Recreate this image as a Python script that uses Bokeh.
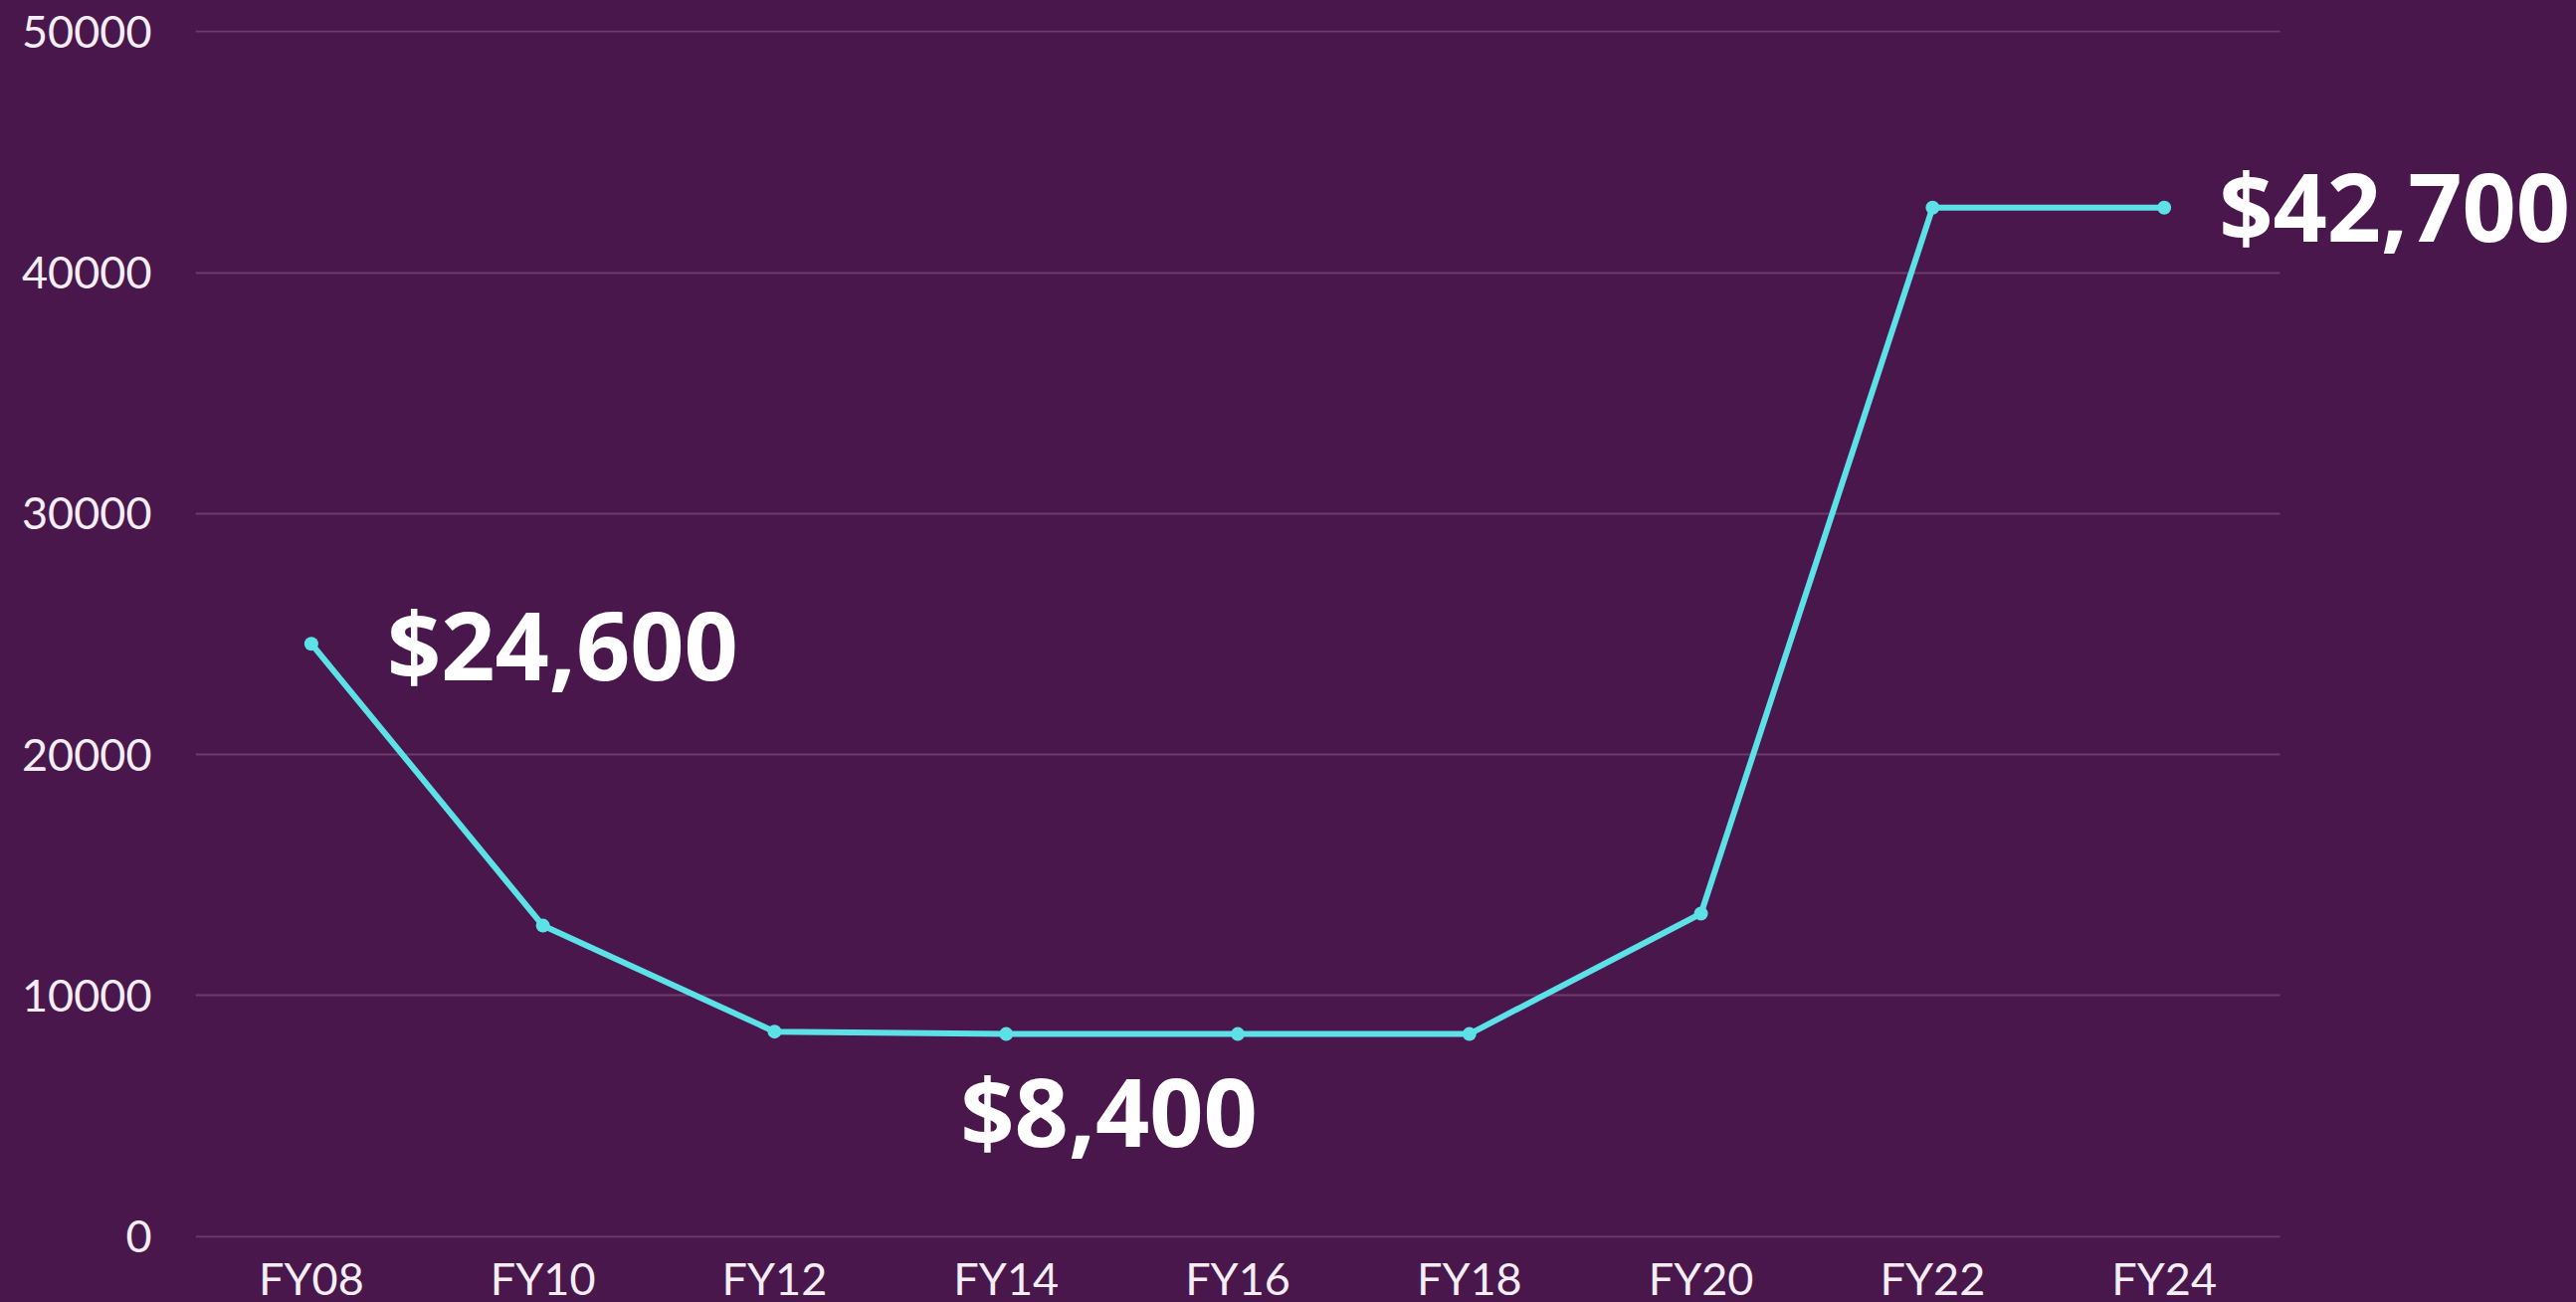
from bokeh.plotting import figure
from bokeh.models import Range1d, FixedTicker
from bokeh.core.properties import value
from bokeh.embed import file_html
from bokeh.resources import INLINE

# ---- data ----
years = ["FY08", "FY10", "FY12", "FY14", "FY16", "FY18", "FY20", "FY22", "FY24"]
values = [24600, 12900, 8500, 8400, 8400, 8400, 13400, 42700, 42700]
y_ticks = [0, 10000, 20000, 30000, 40000, 50000]

label_years = ["FY08", "FY14", "FY24"]
label_values = [24600, 8400, 42700]
label_texts = ["$24,600", "$8,400", "$42,700"]

BG = "#49174c"
LINE = "#5ce1e6"
GRID = "#6a3d6d"

# category positions on the x axis
xs = list(range(len(years)))
label_xs = [years.index(c) for c in label_years]

p = figure(
    x_range=Range1d(-0.5, 9.78),
    y_range=Range1d(-60, 50060),
    frame_width=2393, frame_height=1214,
    min_border_left=196, min_border_top=30, min_border_right=0, min_border_bottom=40,
    output_backend="svg", toolbar_location=None,
    border_fill_color=BG, background_fill_color=BG,
)
p.styles = {"background-color": BG}
p.outline_line_color = None

p.line(xs, values, line_color=LINE, line_width=6)
p.scatter(xs, values, size=14, fill_color=LINE, line_color=None)

# axes
p.yaxis.ticker = FixedTicker(ticks=y_ticks)
p.yaxis.axis_line_color = None
p.yaxis.major_tick_line_color = None
p.yaxis.minor_tick_line_color = None
p.yaxis.major_label_standoff = 38
p.yaxis.major_label_text_font = "Lato"
p.yaxis.major_label_text_font_size = "45px"
p.yaxis.major_label_text_color = "#f4eef4"

p.xaxis.ticker = FixedTicker(ticks=xs)
p.xaxis.major_label_overrides = {i: y for i, y in zip(xs, years)}
p.xaxis.axis_line_color = None
p.xaxis.major_tick_line_color = None
p.xaxis.minor_tick_line_color = None
p.xaxis.major_label_standoff = 7
p.xaxis.major_label_text_font = "Lato"
p.xaxis.major_label_text_font_size = "45px"
p.xaxis.major_label_text_color = "#f4eef4"

p.xgrid.grid_line_color = None
p.ygrid.grid_line_color = GRID
p.ygrid.grid_line_width = 2
p.ygrid.cross_bounds = (-0.5, len(years) - 0.5)

p.text(
    x=label_xs, y=label_values, text=label_texts,
    x_offset=[76, -46, 55], y_offset=[0, 76, -3],
    text_font=value("Open Sans"), text_font_style="bold", text_font_size="95px",
    text_color="white", text_align="left", text_baseline="middle",
)

open("out.html", "w").write(file_html(p, INLINE))
